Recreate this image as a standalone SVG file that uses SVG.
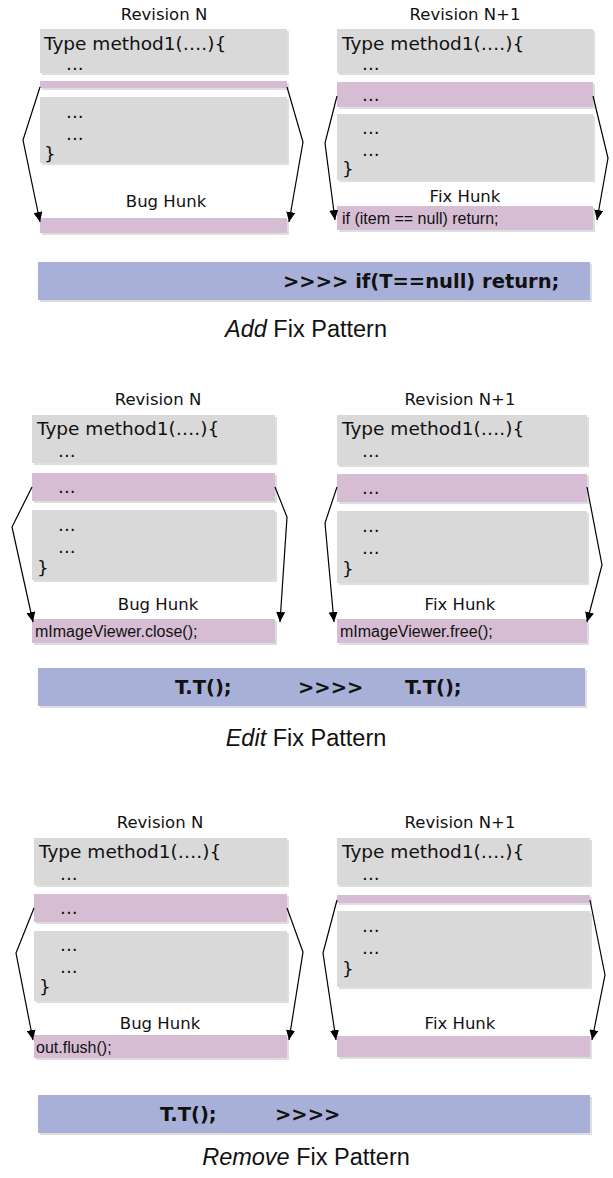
<svg xmlns="http://www.w3.org/2000/svg" width="613" height="1178" viewBox="0 0 613 1178">
<style>
.g{fill:#d9d9d9}
.p{fill:#d6bdd4}
.b{fill:#a9b0d8}
.sh{fill:#000;opacity:0.13}
.code{font-family:"DejaVu Sans",Verdana,sans-serif;font-size:18.5px;fill:#111}
.lab{font-family:"DejaVu Sans",Verdana,sans-serif;font-size:16.5px;fill:#111;text-anchor:middle}
.src{font-family:"Liberation Sans",Arial,sans-serif;font-size:16px;fill:#111}
.bold{font-family:"DejaVu Sans",Verdana,sans-serif;font-size:19.5px;font-weight:bold;fill:#111}
.cap{font-family:"Liberation Sans",Arial,sans-serif;font-size:23.5px;fill:#111;text-anchor:middle}
.conn{fill:none;stroke:#000;stroke-width:1.2}
</style>
<defs>
<marker id="ah" markerUnits="userSpaceOnUse" markerWidth="10" markerHeight="9" refX="10" refY="4.5" orient="auto">
<path d="M0,0 L10,4.5 L0,9 z" fill="#000"/>
</marker>
</defs>

<!-- ===== Section 1: Add ===== -->
<g id="s1-revN"><text class="lab" x="164" y="20">Revision N</text></g>
<g id="s1-L-g1"><rect class="sh" x="42" y="31" width="247" height="44"/><rect class="g" x="40" y="29" width="247" height="44"/><text class="code" x="44" y="50">Type method1(….){</text><text class="code" x="66" y="70">...</text></g>
<g id="s1-L-p1"><rect class="sh" x="42" y="83" width="247" height="7"/><rect class="p" x="40" y="81" width="247" height="7"/></g>
<g id="s1-L-g2"><rect class="sh" x="42" y="99" width="247" height="66"/><rect class="g" x="40" y="97" width="247" height="66"/><text class="code" x="66" y="118">...</text><text class="code" x="66" y="140">...</text><text class="code" x="44" y="160">}</text></g>
<g id="s1-bug"><text class="lab" x="166" y="207">Bug Hunk</text><rect class="sh" x="42" y="220" width="247" height="15"/><rect class="p" x="40" y="218" width="247" height="15"/></g>

<g id="s1-revN1"><text class="lab" x="465" y="20">Revision N+1</text></g>
<g id="s1-R-g1"><rect class="sh" x="339" y="31" width="256" height="44"/><rect class="g" x="337" y="29" width="256" height="44"/><text class="code" x="342" y="50">Type method1(….){</text><text class="code" x="362" y="70">...</text></g>
<g id="s1-R-p1"><rect class="sh" x="339" y="84" width="256" height="25"/><rect class="p" x="337" y="82" width="256" height="25"/><text class="code" x="362" y="101">...</text></g>
<g id="s1-R-g2"><rect class="sh" x="339" y="116" width="256" height="66"/><rect class="g" x="337" y="114" width="256" height="66"/><text class="code" x="362" y="134">...</text><text class="code" x="362" y="156">...</text><text class="code" x="342" y="175">}</text></g>
<g id="s1-fix"><text class="lab" x="465" y="202">Fix Hunk</text><rect class="sh" x="339" y="208" width="256" height="24"/><rect class="p" x="337" y="206" width="256" height="24"/><text class="src" x="342" y="224">if (item == null) return;</text></g>

<g id="s1-pattern"><rect class="sh" x="40" y="264" width="552" height="38"/><rect class="b" x="38" y="262" width="552" height="38"/><text class="bold" x="283" y="288">&gt;&gt;&gt;&gt; if(T==null) return;</text></g>
<g id="s1-caption"><text class="cap" x="306" y="337"><tspan font-style="italic">Add</tspan> Fix Pattern</text></g>

<!-- ===== Section 2: Edit ===== -->
<g id="s2-revN"><text class="lab" x="158" y="405">Revision N</text></g>
<g id="s2-L-g1"><rect class="sh" x="34" y="417" width="243" height="48"/><rect class="g" x="32" y="415" width="243" height="48"/><text class="code" x="37" y="435">Type method1(….){</text><text class="code" x="58" y="457">...</text></g>
<g id="s2-L-p1"><rect class="sh" x="34" y="475" width="243" height="28"/><rect class="p" x="32" y="473" width="243" height="28"/><text class="code" x="58" y="493">...</text></g>
<g id="s2-L-g2"><rect class="sh" x="34" y="512" width="243" height="70"/><rect class="g" x="32" y="510" width="243" height="70"/><text class="code" x="58" y="531">...</text><text class="code" x="58" y="553">...</text><text class="code" x="37" y="574">}</text></g>
<g id="s2-bug"><text class="lab" x="158" y="610">Bug Hunk</text><rect class="sh" x="34" y="621" width="243" height="24"/><rect class="p" x="32" y="619" width="243" height="24"/><text class="src" x="35" y="637">mImageViewer.close();</text></g>

<g id="s2-revN1"><text class="lab" x="460" y="405">Revision N+1</text></g>
<g id="s2-R-g1"><rect class="sh" x="339" y="417" width="250" height="50"/><rect class="g" x="337" y="415" width="250" height="50"/><text class="code" x="342" y="435">Type method1(….){</text><text class="code" x="362" y="457">...</text></g>
<g id="s2-R-p1"><rect class="sh" x="339" y="476" width="250" height="28"/><rect class="p" x="337" y="474" width="250" height="28"/><text class="code" x="362" y="494">...</text></g>
<g id="s2-R-g2"><rect class="sh" x="339" y="513" width="250" height="72"/><rect class="g" x="337" y="511" width="250" height="72"/><text class="code" x="362" y="532">...</text><text class="code" x="362" y="554">...</text><text class="code" x="342" y="575">}</text></g>
<g id="s2-fix"><text class="lab" x="460" y="610">Fix Hunk</text><rect class="sh" x="339" y="621" width="250" height="24"/><rect class="p" x="337" y="619" width="250" height="24"/><text class="src" x="340" y="637">mImageViewer.free();</text></g>

<g id="s2-pattern"><rect class="sh" x="40" y="670" width="547" height="38"/><rect class="b" x="38" y="668" width="547" height="38"/><text class="bold" x="175" y="694">T.T();</text><text class="bold" x="298" y="694">&gt;&gt;&gt;&gt;</text><text class="bold" x="405" y="694">T.T();</text></g>
<g id="s2-caption"><text class="cap" x="306" y="746"><tspan font-style="italic">Edit</tspan> Fix Pattern</text></g>

<!-- ===== Section 3: Remove ===== -->
<g id="s3-revN"><text class="lab" x="160" y="828">Revision N</text></g>
<g id="s3-L-g1"><rect class="sh" x="36" y="840" width="253" height="47"/><rect class="g" x="34" y="838" width="253" height="47"/><text class="code" x="39" y="858">Type method1(….){</text><text class="code" x="60" y="880">...</text></g>
<g id="s3-L-p1"><rect class="sh" x="36" y="896" width="253" height="28"/><rect class="p" x="34" y="894" width="253" height="28"/><text class="code" x="60" y="914">...</text></g>
<g id="s3-L-g2"><rect class="sh" x="36" y="933" width="253" height="70"/><rect class="g" x="34" y="931" width="253" height="70"/><text class="code" x="60" y="951">...</text><text class="code" x="60" y="973">...</text><text class="code" x="39" y="993">}</text></g>
<g id="s3-bug"><text class="lab" x="160" y="1029">Bug Hunk</text><rect class="sh" x="36" y="1037" width="253" height="23"/><rect class="p" x="34" y="1035" width="253" height="23"/><text class="src" x="36" y="1053">out.flush();</text></g>

<g id="s3-revN1"><text class="lab" x="460" y="828">Revision N+1</text></g>
<g id="s3-R-g1"><rect class="sh" x="339" y="840" width="253" height="47"/><rect class="g" x="337" y="838" width="253" height="47"/><text class="code" x="342" y="858">Type method1(….){</text><text class="code" x="362" y="880">...</text></g>
<g id="s3-R-p1"><rect class="sh" x="339" y="897" width="253" height="8"/><rect class="p" x="337" y="895" width="253" height="8"/></g>
<g id="s3-R-g2"><rect class="sh" x="339" y="913" width="253" height="76"/><rect class="g" x="337" y="911" width="253" height="76"/><text class="code" x="362" y="932">...</text><text class="code" x="362" y="954">...</text><text class="code" x="342" y="975">}</text></g>
<g id="s3-fix"><text class="lab" x="460" y="1029">Fix Hunk</text><rect class="sh" x="339" y="1038" width="253" height="21"/><rect class="p" x="337" y="1036" width="253" height="21"/></g>

<g id="s3-pattern"><rect class="sh" x="40" y="1097" width="552" height="38"/><rect class="b" x="38" y="1095" width="552" height="38"/><text class="bold" x="160" y="1121">T.T();</text><text class="bold" x="275" y="1121">&gt;&gt;&gt;&gt;</text></g>
<g id="s3-caption"><text class="cap" x="306" y="1165"><tspan font-style="italic">Remove</tspan> Fix Pattern</text></g>

<!-- ===== Connectors ===== -->
<g id="connectors" class="conn" marker-end="url(#ah)">
<path d="M40,87 L23,140 L40,222"/>
<path d="M287,87 L303,142 L289,222"/>
<path d="M337,96 L325,143 L335,220"/>
<path d="M593,96 L608,158 L597,220"/>
<path d="M32,487 L12,527 L33,622"/>
<path d="M275,487 L287,517 L280,622"/>
<path d="M337,487 L325,523 L334,622"/>
<path d="M587,487 L602,565 L587,622"/>
<path d="M34,908 L16,953 L33,1040"/>
<path d="M287,908 L303,952 L289,1040"/>
<path d="M337,900 L323,953 L336,1040"/>
<path d="M590,900 L605,975 L592,1040"/>
</g>
</svg>
